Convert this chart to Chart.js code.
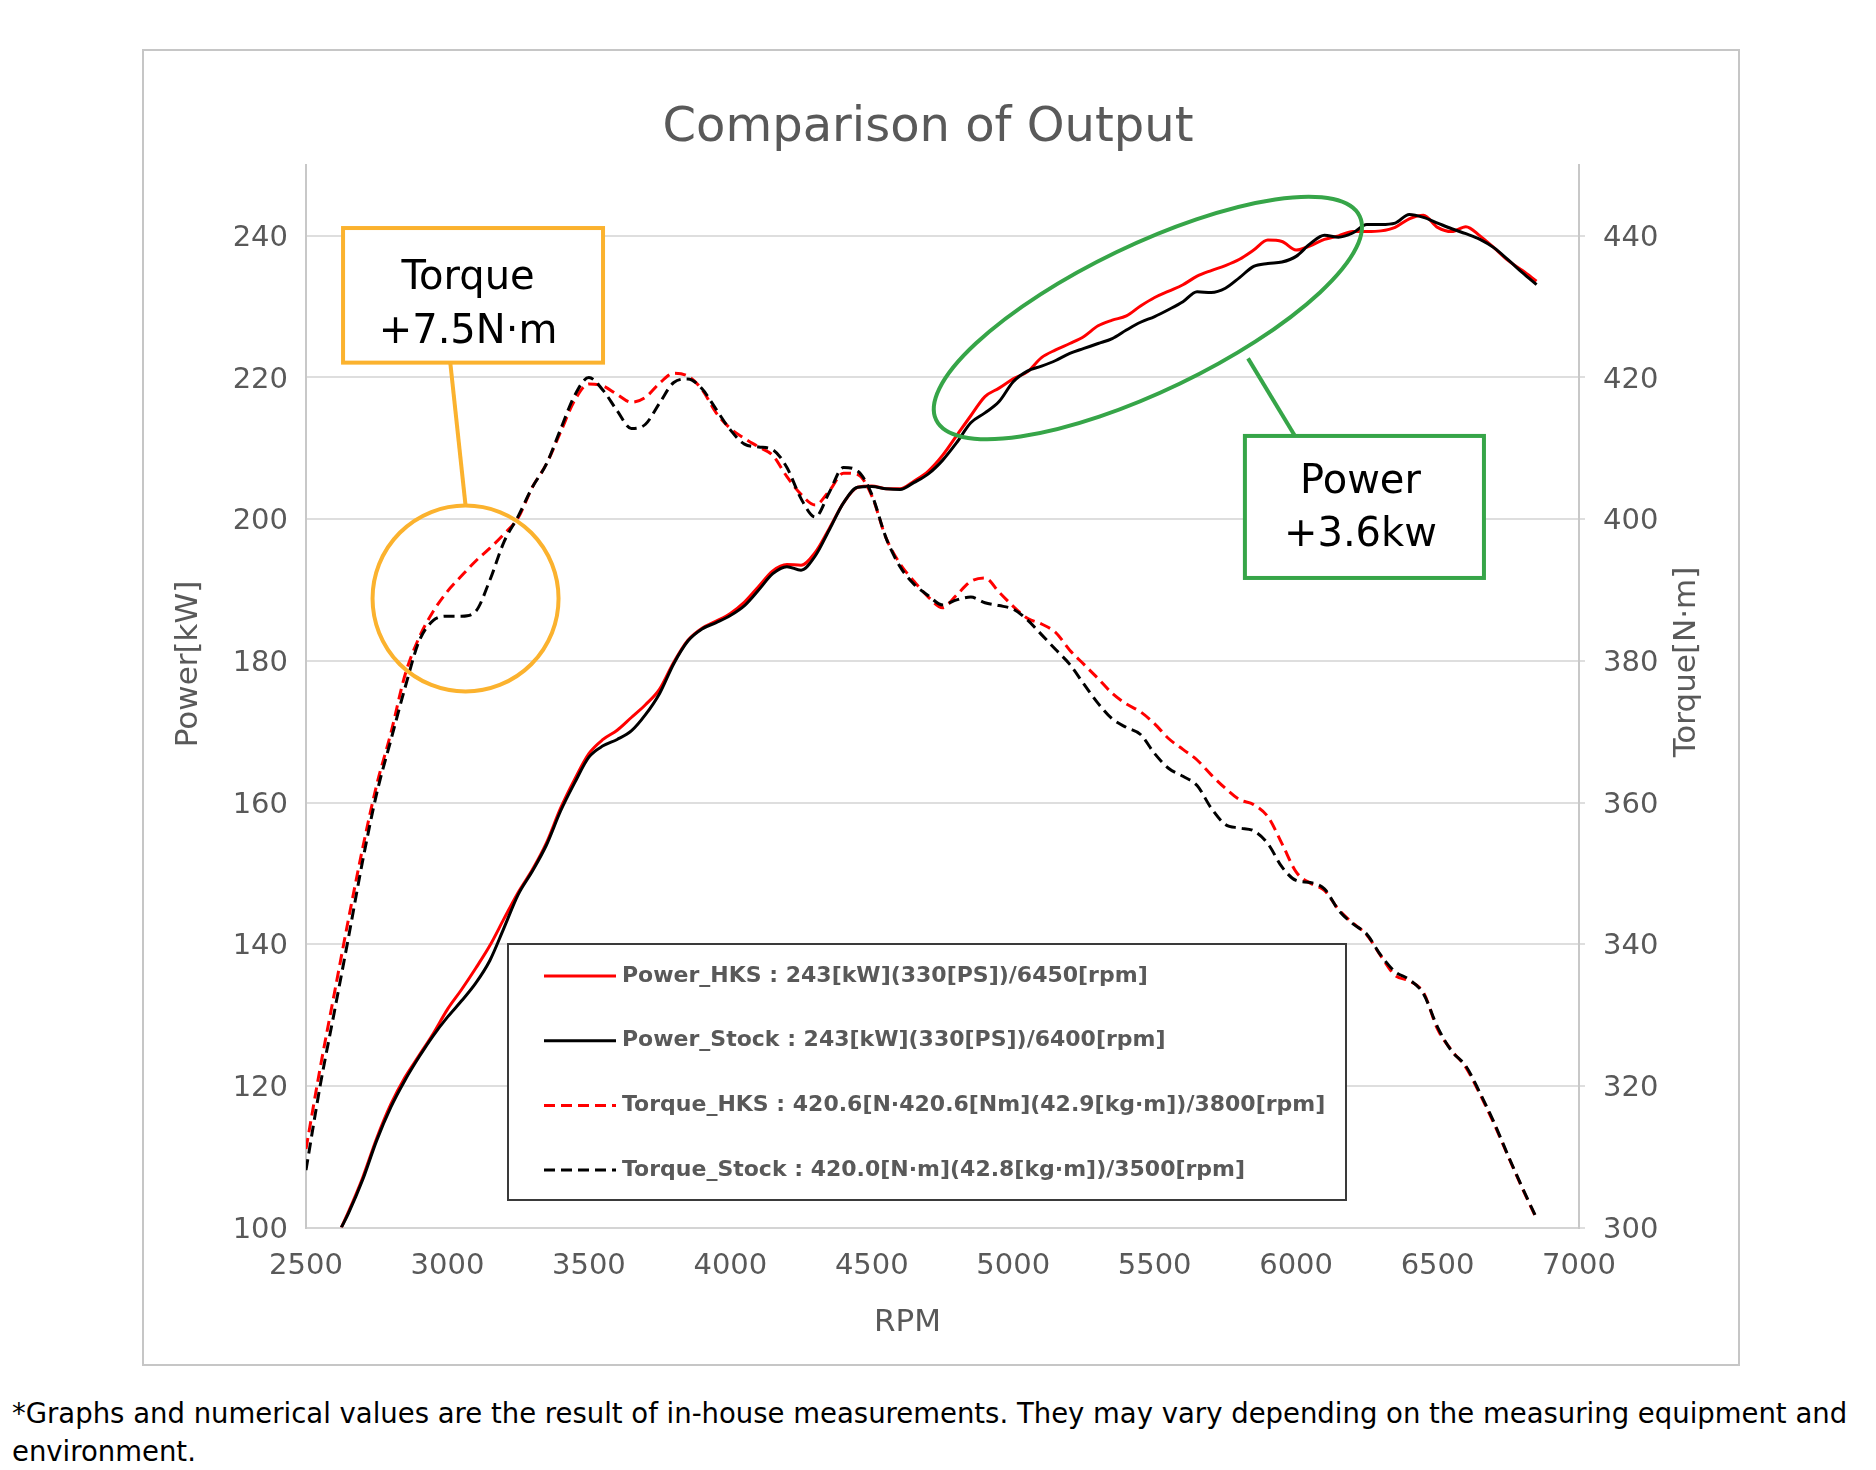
<!DOCTYPE html>
<html lang="en">
<head>
<meta charset="UTF-8">
<title>Comparison of Output</title>
<script src="https://cdn.jsdelivr.net/npm/chart.js@4.4.1/dist/chart.umd.min.js"></script>
<style>
    html, body { margin: 0; padding: 0; background: #fff; }
    body { width: 1876px; height: 1470px; position: relative; overflow: hidden; }
    #chartBox { position: absolute; left: 142px; top: 49px; width: 1598px; height: 1317px; border: 2px solid #c6c6c6; box-sizing: border-box; }
    #chartBox canvas { display: block; }
    #note { position: absolute; left: 12px; top: 1394px; font-family: "DejaVu Sans", sans-serif; font-size: 27.5px; line-height: 38px; color: #000; white-space: nowrap; }
</style>
</head>
<body>
<div id="chartBox"><canvas id="outputChart" width="1594" height="1313"></canvas></div>
<div id="note">*Graphs and numerical values are the result of in-house measurements. They may vary depending on the measuring equipment and<br>environment.</div>
<script>
    // 차트 데이터
    var chartTitle = 'Comparison of Output';
    var xAxisTitle = 'RPM';
    var yAxisTitle = 'Power[kW]';
    var y1AxisTitle = 'Torque[N·m]';

    var seriesLabels = [
        'Power_HKS : 243[kW](330[PS])/6450[rpm]',
        'Power_Stock : 243[kW](330[PS])/6400[rpm]',
        'Torque_HKS : 420.6[N·420.6[Nm](42.9[kg·m])/3800[rpm]',
        'Torque_Stock : 420.0[N·m](42.8[kg·m])/3500[rpm]'
    ];

    var powerRpm = [2625, 2650, 2700, 2750, 2800, 2850, 2900, 2950, 3000, 3050,
        3100, 3150, 3200, 3250, 3300, 3350, 3400, 3450, 3500, 3550,
        3600, 3650, 3700, 3750, 3800, 3850, 3900, 3950, 4000, 4050,
        4100, 4150, 4200, 4250, 4300, 4350, 4400, 4450, 4500, 4550,
        4600, 4650, 4700, 4750, 4800, 4850, 4900, 4950, 5000, 5050,
        5100, 5150, 5200, 5250, 5300, 5350, 5400, 5450, 5500, 5550,
        5600, 5650, 5700, 5750, 5800, 5850, 5900, 5950, 6000, 6050,
        6100, 6150, 6200, 6250, 6300, 6350, 6400, 6450, 6500, 6550,
        6600, 6650, 6700, 6750, 6800, 6850];

    var powerHks = [100.0, 102.2, 107.0, 112.6, 117.4, 121.2, 124.3, 127.4, 130.8, 133.6,
        136.6, 139.8, 143.6, 147.3, 150.5, 154.3, 159.2, 163.3, 166.9, 168.9,
        170.2, 172.0, 173.8, 176.0, 179.8, 182.9, 184.6, 185.6, 186.7, 188.3,
        190.5, 192.7, 193.6, 193.5, 195.3, 198.7, 202.3, 204.5, 204.7, 204.3,
        204.3, 205.4, 206.8, 209.0, 211.8, 214.6, 217.3, 218.5, 219.8, 220.8,
        222.8, 223.9, 224.8, 225.8, 227.3, 228.1, 228.7, 230.1, 231.3, 232.2,
        233.1, 234.3, 235.1, 235.8, 236.7, 238.0, 239.4, 239.2, 238.0, 238.6,
        239.5, 240.0, 240.6, 240.6, 240.7, 241.2, 242.4, 242.9, 241.2, 240.6,
        241.3, 240.0, 238.3, 236.5, 235.1, 233.6];

    var powerStock = [100.0, 102.0, 106.7, 112.3, 117.0, 120.8, 124.1, 127.1, 129.7, 132.0,
        134.5, 137.7, 142.3, 147.0, 150.3, 154.0, 158.8, 162.8, 166.4, 168.0,
        168.9, 170.1, 172.4, 175.4, 179.6, 182.8, 184.5, 185.4, 186.4, 187.8,
        190.0, 192.3, 193.3, 192.8, 194.8, 198.5, 202.3, 204.5, 204.6, 204.3,
        204.2, 205.2, 206.4, 208.3, 210.8, 213.6, 215.0, 216.6, 219.4, 220.9,
        221.6, 222.4, 223.4, 224.1, 224.8, 225.5, 226.7, 227.8, 228.6, 229.6,
        230.7, 232.1, 232.0, 232.6, 234.1, 235.7, 236.1, 236.3, 237.1, 238.9,
        240.1, 239.8, 240.4, 241.6, 241.6, 241.8, 243.0, 242.6, 241.8, 241.0,
        240.3, 239.5, 238.3, 236.6, 234.8, 233.1];

    var torqueRpm = [2500, 2550, 2600, 2650, 2700, 2750, 2800, 2850, 2900, 2950,
        3000, 3050, 3100, 3150, 3200, 3250, 3300, 3350, 3400, 3450,
        3500, 3550, 3600, 3650, 3700, 3750, 3800, 3850, 3900, 3950,
        4000, 4050, 4100, 4150, 4200, 4250, 4300, 4350, 4400, 4450,
        4500, 4550, 4600, 4650, 4700, 4750, 4800, 4850, 4900, 4950,
        5000, 5050, 5100, 5150, 5200, 5250, 5300, 5350, 5400, 5450,
        5500, 5550, 5600, 5650, 5700, 5750, 5800, 5850, 5900, 5950,
        6000, 6050, 6100, 6150, 6200, 6250, 6300, 6350, 6400, 6450,
        6500, 6550, 6600, 6650, 6700, 6750, 6800, 6850];

    var torqueHks = [311.1, 322.5, 333.0, 343.5, 353.5, 362.5, 369.8, 378.0, 383.3, 387.0,
        389.8, 392.0, 394.1, 395.9, 397.9, 400.2, 404.5, 407.8, 412.3, 416.8,
        419.1, 418.8, 417.6, 416.5, 417.2, 419.2, 420.6, 420.2, 418.3, 415.0,
        412.8, 411.4, 410.2, 409.0, 406.0, 403.5, 402.0, 404.0, 406.5, 406.3,
        403.3, 397.4, 393.7, 391.2, 389.0, 387.5, 389.3, 391.2, 391.7, 389.7,
        387.7, 386.0, 385.2, 384.0, 381.5, 379.5, 377.5, 375.4, 373.9, 372.8,
        371.1, 369.0, 367.5, 366.0, 363.9, 362.0, 360.4, 359.7, 358.0, 354.2,
        350.2, 348.6, 347.6, 344.9, 343.0, 341.3, 338.3, 335.6, 334.8, 333.2,
        328.0, 325.0, 322.6, 318.8, 314.6, 310.0, 305.5, 301.2];

    var torqueStock = [308.1, 320.0, 330.4, 340.9, 351.7, 361.3, 368.8, 376.2, 382.8, 385.7,
        386.3, 386.3, 387.0, 391.4, 396.8, 400.4, 404.5, 407.8, 412.7, 417.5,
        420.0, 418.2, 415.3, 412.8, 413.4, 416.4, 419.3, 419.8, 418.4, 415.5,
        412.6, 410.6, 410.2, 409.8, 407.3, 402.9, 400.3, 403.8, 407.3, 406.8,
        403.5, 397.4, 393.3, 390.8, 389.2, 387.9, 388.6, 389.0, 388.2, 387.8,
        387.3, 385.8, 383.7, 381.6, 379.5, 376.7, 374.0, 371.8, 370.6, 369.6,
        366.9, 364.8, 363.7, 362.4, 359.2, 356.9, 356.4, 356.0, 354.2, 350.9,
        349.0, 348.7, 347.8, 344.8, 342.9, 341.4, 338.4, 336.1, 335.0, 333.0,
        328.3, 324.9, 322.8, 319.0, 314.8, 310.1, 305.6, 301.3];

    // 주석 (rpm / kW 좌표로 위치 지정)
    var torqueNote = {
        lines: ['Torque', '+7.5N·m'],
        color: '#fbb22e',
        box: [2631, 241.1, 3550, 222.1],
        ring: [3064, 188.8],
        ringRadius: 93,
        leadX: 3010
    };
    var powerNote = {
        lines: ['Power', '+3.6kw'],
        color: '#36a548',
        box: [5819, 211.75, 6664, 191.7],
        oval: [5476, 228.4],
        ovalRadius: [235, 73],
        ovalAngle: -25.7,
        lead: [5830, 222.7, 5996]
    };

    function toPoints(xs, ys) {
        var pts = [];
        for (var i = 0; i < xs.length; i++) {
            pts.push({x: xs[i], y: ys[i]});
        }
        return pts;
    }

    var notesPlugin = {
        id: 'outputNotes',
        afterDraw: function(chart) {
            var c = chart.ctx;
            var xs = chart.scales.x;
            var ys = chart.scales.y;
            var area = chart.chartArea;
            var px = function(v) { return xs.getPixelForValue(v); };
            var py = function(v) { return ys.getPixelForValue(v); };

            c.save();

            // 축 제목
            c.fillStyle = '#595959';
            c.font = '31px "DejaVu Sans"';
            c.textAlign = 'center';
            c.textBaseline = 'middle';
            c.fillText(xAxisTitle, (area.left + area.right) / 2 - 35, area.bottom + 95);
            c.save();
            c.translate(area.left - 117, area.top + 499);
            c.rotate(-Math.PI / 2);
            c.fillText(yAxisTitle, 0, 0);
            c.restore();
            c.save();
            c.translate(area.right + 108, area.top + 497);
            c.rotate(-Math.PI / 2);
            c.fillText(y1AxisTitle, 0, 0);
            c.restore();

            // Torque 주석
            var bx1 = px(torqueNote.box[0]), by1 = py(torqueNote.box[1]);
            var bx2 = px(torqueNote.box[2]), by2 = py(torqueNote.box[3]);
            var rx = px(torqueNote.ring[0]), ry = py(torqueNote.ring[1]);
            c.lineWidth = 4;
            c.strokeStyle = torqueNote.color;
            c.fillStyle = '#fff';
            c.fillRect(bx1, by1, bx2 - bx1, by2 - by1);
            c.strokeRect(bx1, by1, bx2 - bx1, by2 - by1);
            c.beginPath();
            c.moveTo(px(torqueNote.leadX), by2);
            c.lineTo(rx, ry - torqueNote.ringRadius);
            c.stroke();
            c.beginPath();
            c.arc(rx, ry, torqueNote.ringRadius, 0, Math.PI * 2);
            c.stroke();
            c.fillStyle = '#000';
            c.font = '40px "DejaVu Sans"';
            c.textBaseline = 'alphabetic';
            c.fillText(torqueNote.lines[0], (bx1 + bx2) / 2 - 5, by1 + 61);
            c.fillText(torqueNote.lines[1], (bx1 + bx2) / 2 - 5, by1 + 115);

            // Power 주석
            var gx1 = px(powerNote.box[0]), gy1 = py(powerNote.box[1]);
            var gx2 = px(powerNote.box[2]), gy2 = py(powerNote.box[3]);
            c.strokeStyle = powerNote.color;
            c.fillStyle = '#fff';
            c.fillRect(gx1, gy1, gx2 - gx1, gy2 - gy1);
            c.strokeRect(gx1, gy1, gx2 - gx1, gy2 - gy1);
            c.beginPath();
            c.ellipse(px(powerNote.oval[0]), py(powerNote.oval[1]), powerNote.ovalRadius[0], powerNote.ovalRadius[1],
                powerNote.ovalAngle * Math.PI / 180, 0, Math.PI * 2);
            c.stroke();
            c.beginPath();
            c.moveTo(px(powerNote.lead[0]), py(powerNote.lead[1]));
            c.lineTo(px(powerNote.lead[2]), gy1);
            c.stroke();
            c.fillStyle = '#000';
            c.fillText(powerNote.lines[0], (gx1 + gx2) / 2 - 4, gy1 + 57);
            c.fillText(powerNote.lines[1], (gx1 + gx2) / 2 - 4, gy1 + 110);

            // 범례
            var lx = area.left + 202, ly = area.top + 779, lw = 838, lh = 256;
            c.fillStyle = '#fff';
            c.fillRect(lx, ly, lw, lh);
            c.strokeStyle = '#3a3a3a';
            c.lineWidth = 2;
            c.strokeRect(lx, ly, lw, lh);
            c.font = 'bold 22px "DejaVu Sans"';
            c.textAlign = 'left';
            c.textBaseline = 'middle';
            chart.data.datasets.forEach(function(ds, i) {
                var yy = ly + 32 + i * 64.7;
                c.strokeStyle = ds.borderColor;
                c.lineWidth = 3;
                c.setLineDash(ds.borderDash || []);
                c.beginPath();
                c.moveTo(lx + 36, yy);
                c.lineTo(lx + 108, yy);
                c.stroke();
                c.setLineDash([]);
                c.fillStyle = '#595959';
                c.fillText(ds.label, lx + 114, yy);
            });

            c.restore();
        }
    };

    Chart.defaults.font.family = '"DejaVu Sans", sans-serif';

    var tickFont = { size: 29 };
    var tickColor = '#595959';
    var gridColor = '#dedede';
    var axisColor = '#c8c8c8';

    var ctx = document.getElementById('outputChart').getContext('2d');
    var outputChart = new Chart(ctx, {
        type: 'line',
        data: {
            datasets: [{
                label: seriesLabels[0],
                data: toPoints(powerRpm, powerHks),
                yAxisID: 'y',
                borderColor: '#ff0000',
                borderWidth: 3,
                order: 4
            }, {
                label: seriesLabels[1],
                data: toPoints(powerRpm, powerStock),
                yAxisID: 'y',
                borderColor: '#000000',
                borderWidth: 3,
                order: 3
            }, {
                label: seriesLabels[2],
                data: toPoints(torqueRpm, torqueHks),
                yAxisID: 'y1',
                borderColor: '#ff0000',
                borderWidth: 3,
                borderDash: [11, 6],
                order: 2
            }, {
                label: seriesLabels[3],
                data: toPoints(torqueRpm, torqueStock),
                yAxisID: 'y1',
                borderColor: '#000000',
                borderWidth: 3,
                borderDash: [11, 6],
                order: 1
            }]
        },
        options: {
            responsive: false,
            animation: false,
            elements: {
                point: { radius: 0 },
                line: { cubicInterpolationMode: 'monotone', fill: false }
            },
            layout: { padding: { left: 0, right: 26, top: 0, bottom: 0 } },
            plugins: {
                legend: { display: false },
                tooltip: { enabled: false },
                title: {
                    display: true,
                    text: chartTitle,
                    color: '#595959',
                    font: { size: 48, weight: 'normal' },
                    padding: { top: 49, bottom: 7.4 }
                }
            },
            scales: {
                x: {
                    type: 'linear',
                    min: 2500,
                    max: 7000,
                    afterFit: function(scale) { scale.height = 136.5; },
                    grid: { display: false, drawTicks: false },
                    border: { display: true, color: '#d4d4d4', width: 2 },
                    ticks: {
                        stepSize: 500,
                        padding: 22,
                        font: tickFont,
                        color: tickColor,
                        maxRotation: 0,
                        autoSkip: false,
                        callback: function(v) { return String(v); }
                    }
                },
                y: {
                    position: 'left',
                    min: 100,
                    max: 250,
                    afterFit: function(scale) { scale.width = 162; },
                    grid: { color: gridColor, lineWidth: 2, drawTicks: false },
                    border: { color: axisColor, width: 2 },
                    ticks: { stepSize: 20, includeBounds: false, padding: 18, labelOffset: 2.5, font: tickFont, color: tickColor }
                },
                y1: {
                    position: 'right',
                    min: 300,
                    max: 450,
                    afterFit: function(scale) { scale.width = 133; },
                    grid: { drawOnChartArea: false, drawTicks: true, tickLength: 6, color: gridColor, lineWidth: 2 },
                    border: { color: axisColor, width: 2 },
                    ticks: { stepSize: 20, includeBounds: false, padding: 18, labelOffset: 2.5, font: tickFont, color: tickColor }
                }
            }
        },
        plugins: [notesPlugin]
    });
</script>
</body>
</html>
